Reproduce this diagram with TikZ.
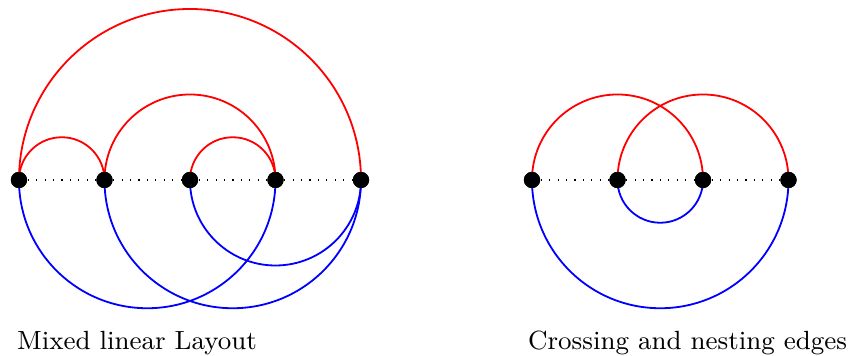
\documentclass[tikz,border=0pt]{standalone}
\usetikzlibrary{positioning}

\tikzset{
  vertex/.style={circle,fill=black,inner sep=0pt,minimum size=5.4pt},
  upper/.style={red,semithick},
  lower/.style={blue,semithick},
  spine/.style={dash pattern=on 0.4pt off 2.4pt},
  caption/.style={font=\fontsize{8.75}{10.5}\selectfont}
}

\begin{document}
\begin{tikzpicture}[x=1cm,y=1cm]
      \useasboundingbox (-0.222,-2.058) rectangle (9.696,2.105);
      % mixed linear layout
      \node[vertex] (a1) at (0,0) {};
      \node[vertex,right=1cm of a1.center,anchor=center] (a2) {};
      \node[vertex,right=1cm of a2.center,anchor=center] (a3) {};
      \node[vertex,right=1cm of a3.center,anchor=center] (a4) {};
      \node[vertex,right=1cm of a4.center,anchor=center] (a5) {};
      \draw[spine] (a1) -- (a2) -- (a3) -- (a4) -- (a5);
      \draw[upper] (a1.center) arc[start angle=180,end angle=0,radius=0.5];
      \draw[upper] (a2.center) arc[start angle=180,end angle=0,radius=1];
      \draw[upper] (a3.center) arc[start angle=180,end angle=0,radius=0.5];
      \draw[upper] (a1.center) arc[start angle=180,end angle=0,radius=2];
      \draw[lower] (a1.center) arc[start angle=180,end angle=360,radius=1.5];
      \draw[lower] (a2.center) arc[start angle=180,end angle=360,radius=1.5];
      \draw[lower] (a3.center) arc[start angle=180,end angle=360,radius=1];
      \foreach \v in {a1,a2,a3,a4,a5} \node[vertex] at (\v) {};
      \node[caption] (l1) at (1.38,-1.906) {Mixed linear Layout};
      % crossing and nesting
      \node[vertex] (b1) at (6,0) {};
      \node[vertex,right=1cm of b1.center,anchor=center] (b2) {};
      \node[vertex,right=1cm of b2.center,anchor=center] (b3) {};
      \node[vertex,right=1cm of b3.center,anchor=center] (b4) {};
      \draw[spine] (b1) -- (b2) -- (b3) -- (b4);
      \draw[upper] (b1.center) arc[start angle=180,end angle=0,radius=1];
      \draw[upper] (b2.center) arc[start angle=180,end angle=0,radius=1];
      \draw[lower] (b2.center) arc[start angle=180,end angle=360,radius=0.5];
      \draw[lower] (b1.center) arc[start angle=180,end angle=360,radius=1.5];
      \foreach \v in {b1,b2,b3,b4} \node[vertex] at (\v) {};
      \node[caption] (l2) at (7.82,-1.906) {Crossing and nesting edges};
\end{tikzpicture}
\end{document}
